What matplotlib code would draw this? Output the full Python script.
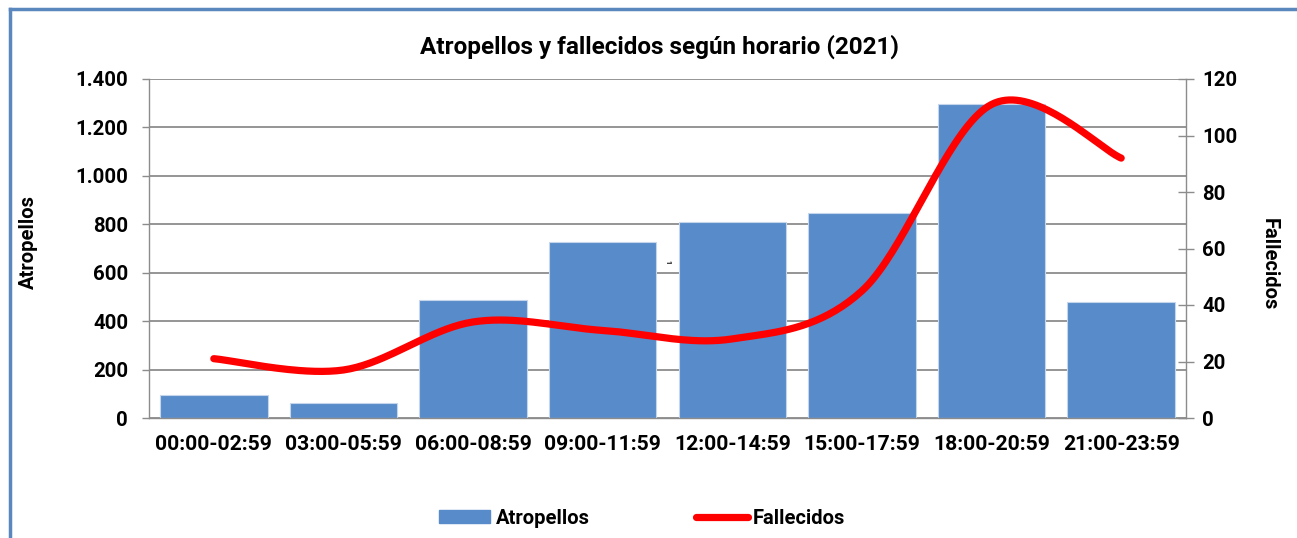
import numpy as np
import matplotlib
matplotlib.use("Agg")
import matplotlib.pyplot as plt
from matplotlib.lines import Line2D
from matplotlib.patches import Patch

categories = ["00:00-02:59", "03:00-05:59", "06:00-08:59", "09:00-11:59",
              "12:00-14:59", "15:00-17:59", "18:00-20:59", "21:00-23:59"]
atropellos = [95, 62, 487, 727, 809, 847, 1297, 479]
fallecidos = [21, 17, 34, 31, 28, 45, 111, 92]
left_ticks = [0, 200, 400, 600, 800, 1000, 1200, 1400]
left_labels = ["0", "200", "400", "600", "800", "1.000", "1.200", "1.400"]
right_ticks = [0, 20, 40, 60, 80, 100, 120]

FONT = "Roboto"
plt.rcParams['font.family'] = [FONT, 'DejaVu Sans']
plt.rcParams['font.weight'] = 'bold'

BAR = "#588BCA"
GRID = "#8C8C8C"
FRAME = "#5B87BF"

fig = plt.figure(figsize=(12.97, 5.38), dpi=100)
ax = fig.add_axes([149/1297, 1-418/538, (1186-149)/1297, (418-79)/538])

x = np.arange(len(categories))
ax.bar(x, atropellos, width=0.83, color=BAR, edgecolor="#C5D6EC", linewidth=0.8, zorder=2)
ax.set_xlim(-0.5, len(categories)-0.5)
ax.set_ylim(0, 1400)
ax.set_yticks(left_ticks)
ax.set_yticklabels(left_labels)
ax.set_xticks(x)
ax.set_xticklabels(categories)
ax.yaxis.grid(True, color=GRID, linewidth=1.3, zorder=0)
ax.set_axisbelow(True)
for s in ["left", "right", "bottom", "top"]:
    ax.spines[s].set_color(GRID)
    ax.spines[s].set_linewidth(1.0)
ax.spines["top"].set_visible(False)
ax.tick_params(axis='y', direction='out', length=5, width=1, color=GRID, pad=10, labelsize=14.7)
ax.tick_params(axis='x', length=0, pad=12, labelsize=15.2)
for t in ax.get_xticklabels() + ax.get_yticklabels():
    t.set_fontweight('bold')
ax.set_ylabel("Atropellos", fontsize=14.5, fontweight='bold')
ax.yaxis.set_label_coords(-0.107, 0.52)

ax2 = ax.twinx()
ax2.set_ylim(0, 120)
ax2.set_yticks(right_ticks)
ax2.tick_params(axis='y', direction='inout', length=11, width=1, color=GRID, pad=6, labelsize=14.7)
for t in ax2.get_yticklabels():
    t.set_fontweight('bold')
for s in ["left", "right", "bottom", "top"]:
    ax2.spines[s].set_visible(False)
ax2.set_ylabel("Fallecidos", fontsize=14.5, fontweight='bold', rotation=-90, va='bottom')
ax2.yaxis.set_label_coords(1.071, 0.455)

# Excel-style smoothed line (Catmull-Rom as cubic Bezier)
xs = np.asarray(x, dtype=float)
ys = np.asarray(fallecidos, dtype=float)
px, py = [], []
n = len(xs)
for i in range(n - 1):
    p0 = (xs[max(i-1, 0)], ys[max(i-1, 0)])
    p1 = (xs[i], ys[i])
    p2 = (xs[i+1], ys[i+1])
    p3 = (xs[min(i+2, n-1)], ys[min(i+2, n-1)])
    c1 = (p1[0] + (p2[0]-p0[0])/6, p1[1] + (p2[1]-p0[1])/6)
    c2 = (p2[0] - (p3[0]-p1[0])/6, p2[1] - (p3[1]-p1[1])/6)
    t = np.linspace(0, 1, 40)
    bx = (1-t)**3*p1[0] + 3*(1-t)**2*t*c1[0] + 3*(1-t)*t**2*c2[0] + t**3*p2[0]
    by = (1-t)**3*p1[1] + 3*(1-t)**2*t*c1[1] + 3*(1-t)*t**2*c2[1] + t**3*p2[1]
    px.extend(bx); py.extend(by)
ax2.plot(px, py, color="#FF0000", linewidth=5.2, solid_capstyle='round', zorder=5)

# stray tiny label
ax.text(3.5, 644, "1", fontsize=5, rotation=-90, ha='center', va='center', color='black')

fig.text(660/1297, 1-47/538, "Atropellos y fallecidos según horario (2021)",
         ha='center', va='center', fontsize=17.5, fontweight='bold')

handles = [Patch(facecolor=BAR, edgecolor=BAR),
           Line2D([0], [0], color="#FF0000", linewidth=5.2, solid_capstyle='round')]
fig.legend(handles, ["Atropellos", "Fallecidos"], loc='center', bbox_to_anchor=(642/1297, 1-518/538),
           ncol=2, frameon=False, handlelength=2.55, handleheight=0.6,
           handletextpad=0.25, columnspacing=5.3, prop={'weight': 'bold', 'size': 14.5})

# outer frame (left and top edges visible)
fig.add_artist(Line2D([10/1297, 10/1297], [0, 1-9/538], color=FRAME, linewidth=2.5, transform=fig.transFigure))
fig.add_artist(Line2D([10/1297, 1], [1-9/538, 1-9/538], color=FRAME, linewidth=2.5, transform=fig.transFigure))

fig.savefig("out.png", dpi=100)
